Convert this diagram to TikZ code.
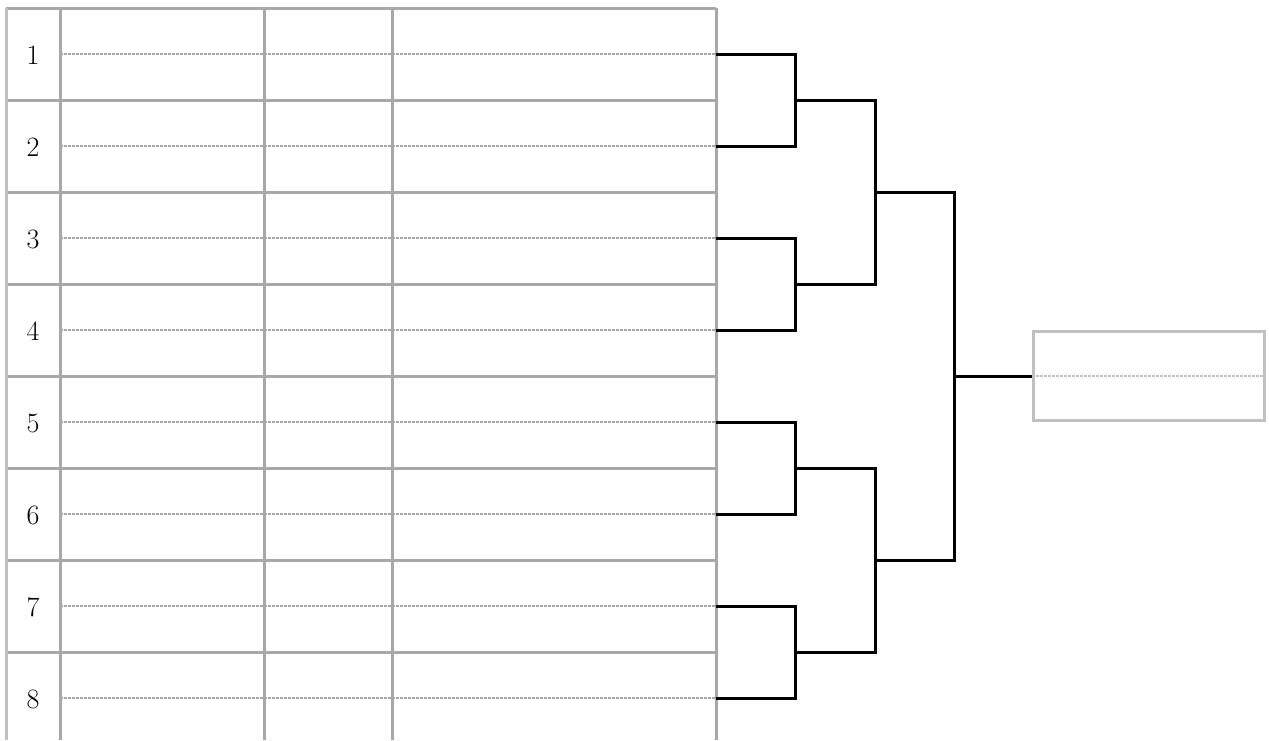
\documentclass[tikz,border=0pt]{standalone}
\usepackage{fontspec}
\setmainfont{Latin Modern Roman}
\begin{document}
\begin{tikzpicture}[x=1pt,y=-1pt,
  gridline/.style={draw=gridgray,line width=3pt},
  outerline/.style={draw=lightgray2,line width=3pt},
  dotline/.style={draw=gridgray,line width=2.5pt,dash pattern=on 3pt off 1pt},
  brline/.style={draw=black,line width=3pt},
  numlabel/.style={font=\fontsize{28}{32}\selectfont,inner sep=0pt},
  finalbox/.style={draw=lightgray2,line width=3pt,minimum width=231pt,minimum height=89pt,inner sep=0pt}]
\definecolor{gridgray}{HTML}{A8A8A8}
\definecolor{lightgray2}{HTML}{C0C0C0}
\useasboundingbox (0,0) rectangle (1269,740);
% grid horizontal lines
\foreach \k in {0,...,7}{
  \draw[gridline] (6,8+92*\k) -- (716,8+92*\k);
}
% grid vertical lines
\draw[outerline] (6,8) -- (6,740);
\foreach \x in {60,264,392,716}{
  \draw[gridline] (\x,8) -- (\x,740);
}
% rows: numbers, dotted lines, end coordinates
\foreach \i in {1,...,8}{
  \node[numlabel] (n\i) at (33,55+92*\i-92) {\i};
  \coordinate (s\i) at (60,54+92*\i-92);
  \coordinate (r\i) at (716,54+92*\i-92);
  \draw[dotline] (s\i) -- (r\i);
}
% bracket joints
\coordinate (m12) at (795,100);
\coordinate (m34) at (795,284);
\coordinate (m56) at (795,468);
\coordinate (m78) at (795,652);
\coordinate (q1) at (875,192);
\coordinate (q2) at (875,560);
\coordinate (f) at (954,376);
\node[finalbox] (final) at (1149,376) {};
\draw[dotline,draw=lightgray2] (final.west) -- (final.east);
% connectors
\draw[brline] (r1) -| (m12) |- (r2);
\draw[brline] (r3) -| (m34) |- (r4);
\draw[brline] (r5) -| (m56) |- (r6);
\draw[brline] (r7) -| (m78) |- (r8);
\draw[brline] (m12) -| (q1) |- (m34);
\draw[brline] (m56) -| (q2) |- (m78);
\draw[brline] (q1) -| (f) |- (q2);
\draw[brline] (f) -- (final.west);
\end{tikzpicture}
\end{document}
